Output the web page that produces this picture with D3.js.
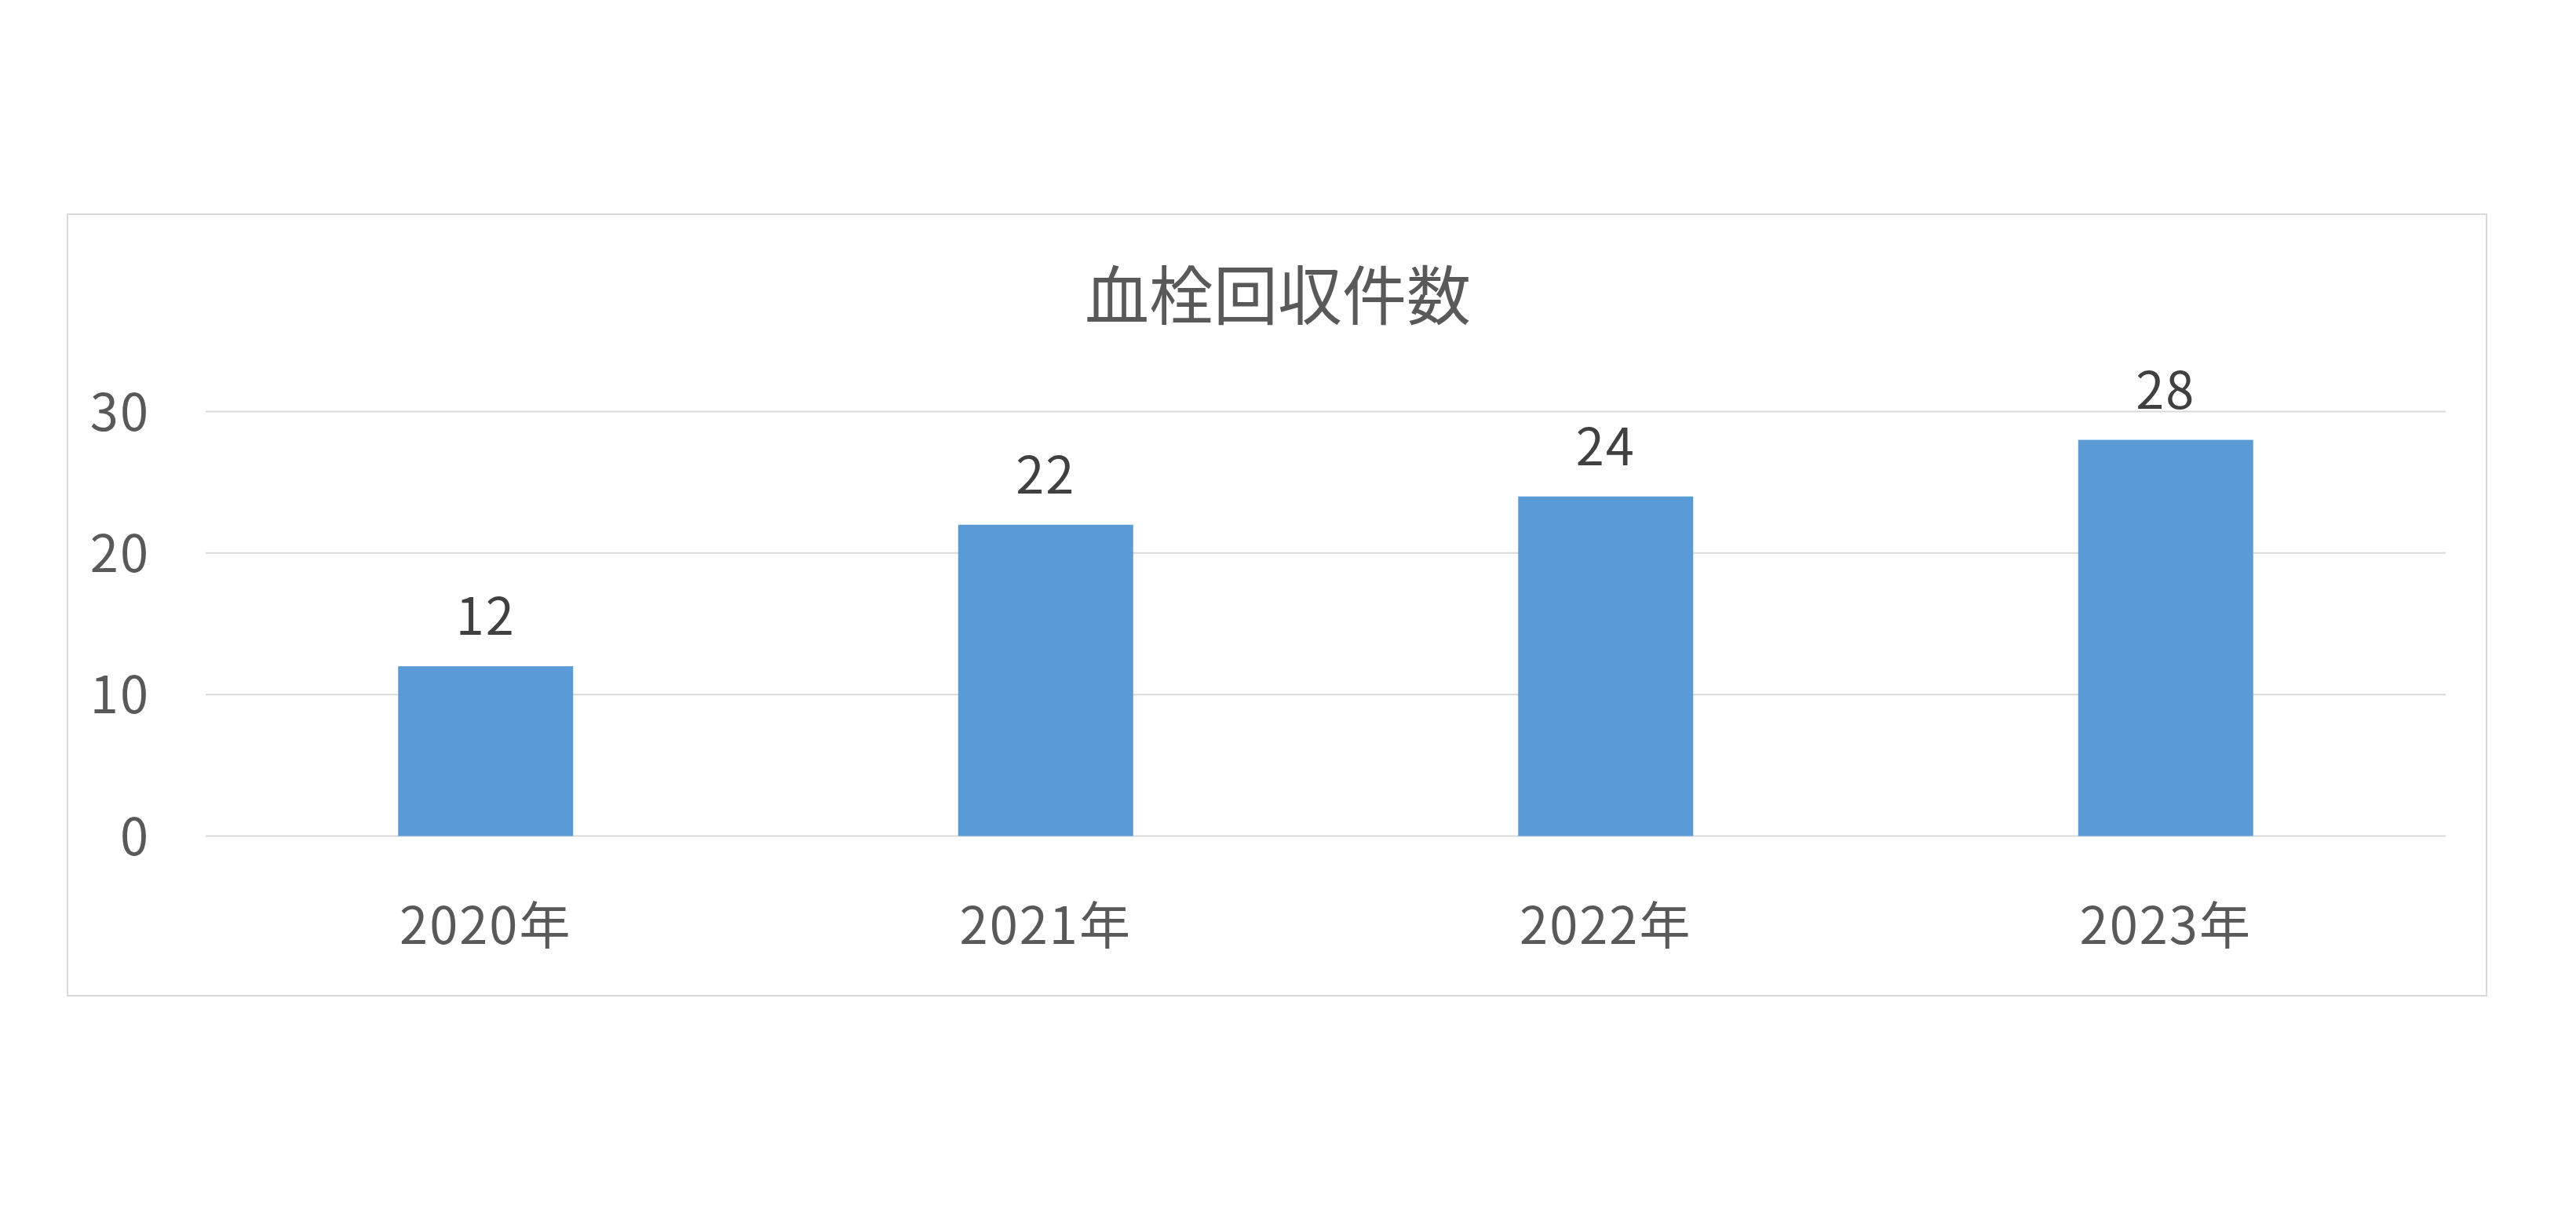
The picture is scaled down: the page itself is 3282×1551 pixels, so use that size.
<!DOCTYPE html>
<html lang="ja">
<head>
<meta charset="UTF-8">
<title>血栓回収件数</title>
<script src="https://d3js.org/d3.v7.min.js"></script>
<style>
    body { margin: 0; background: #fff; }
    svg text { font-family: "Noto Sans CJK JP", "Noto Sans", sans-serif; }
</style>
</head>
<body>
<svg id="chart" width="3282" height="1551"></svg>
<script>
    const title = "血栓回収件数";
    const years = ["2020年", "2021年", "2022年", "2023年"];
    const counts = [12, 22, 24, 28];
    const yTicks = [0, 10, 20, 30];

    const svg = d3.select("#chart");

    // chart frame
    svg.append("rect")
        .attr("x", 86).attr("y", 273)
        .attr("width", 3168 - 86).attr("height", 1269 - 273)
        .attr("fill", "#fff")
        .attr("stroke", "#d9d9d9")
        .attr("stroke-width", 2);

    const plotLeft = 262, plotRight = 3116, plotTop = 524.5, plotBottom = 1065.5;

    const x = d3.scaleBand().domain(years).range([plotLeft, plotRight]).padding(0);
    const y = d3.scaleLinear().domain([0, 30]).range([plotBottom, plotTop]);
    const barW = x.bandwidth() * 0.3125;

    // gridlines
    svg.append("g")
        .selectAll("line")
        .data(yTicks)
        .join("line")
        .attr("x1", plotLeft).attr("x2", plotRight)
        .attr("y1", d => y(d)).attr("y2", d => y(d))
        .attr("stroke", "#d9d9d9")
        .attr("stroke-width", 2);

    // y labels
    svg.append("g")
        .selectAll("text")
        .data(yTicks)
        .join("text")
        .attr("x", 191)
        .attr("y", d => y(d) + 24)
        .attr("text-anchor", "end")
        .attr("font-size", 65)
        .attr("letter-spacing", 2)
        .attr("fill", "#595959")
        .text(d => d);

    // bars
    svg.append("g")
        .selectAll("rect")
        .data(counts)
        .join("rect")
        .attr("x", (d, i) => x(years[i]) + x.bandwidth() / 2 - barW / 2)
        .attr("y", d => y(d))
        .attr("width", barW)
        .attr("height", d => y(0) - y(d))
        .attr("fill", "#5b9bd5");

    // value labels
    svg.append("g")
        .selectAll("text")
        .data(counts)
        .join("text")
        .attr("x", (d, i) => x(years[i]) + x.bandwidth() / 2)
        .attr("y", d => y(d) - 40)
        .attr("text-anchor", "middle")
        .attr("font-size", 65)
        .attr("letter-spacing", 2)
        .attr("fill", "#404040")
        .text(d => d);

    // x labels
    svg.append("g")
        .selectAll("text")
        .data(years)
        .join("text")
        .attr("x", d => x(d) + x.bandwidth() / 2)
        .attr("y", plotBottom + 137)
        .attr("text-anchor", "middle")
        .attr("font-size", 65)
        .attr("letter-spacing", 2)
        .attr("fill", "#595959")
        .text(d => d);

    // title
    svg.append("text")
        .attr("x", 1628)
        .attr("y", 407)
        .attr("text-anchor", "middle")
        .attr("font-size", 82)
        .attr("fill", "#595959")
        .text(title);
</script>
</body>
</html>
